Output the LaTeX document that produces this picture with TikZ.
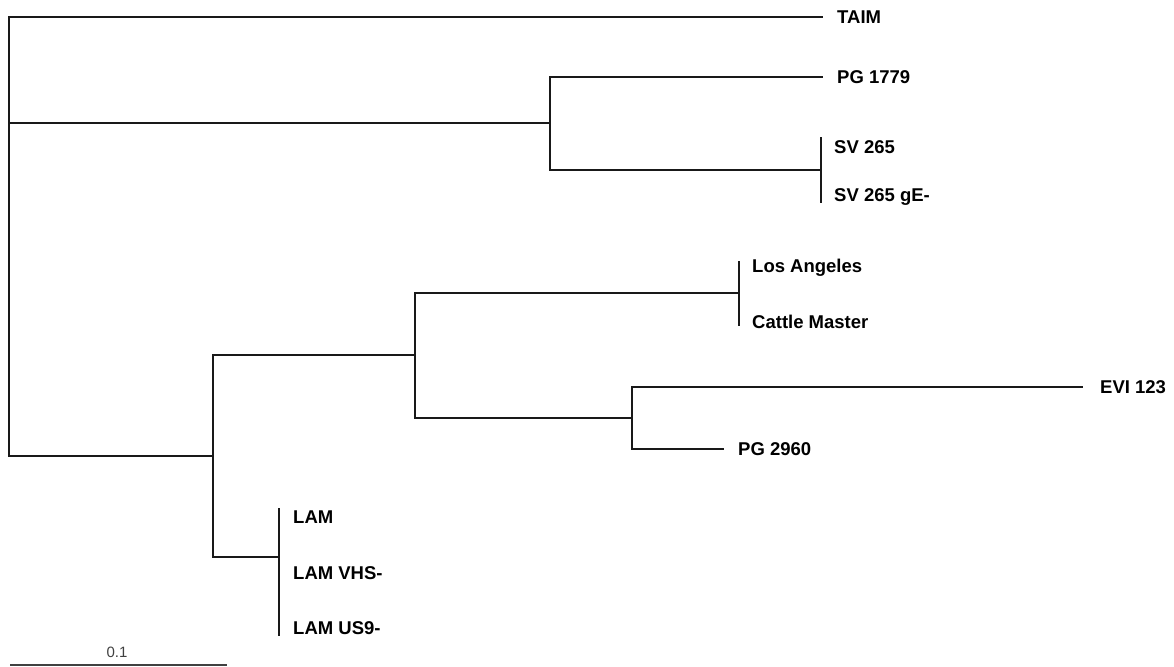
\documentclass[tikz,border=0pt]{standalone}
\usepackage{fontspec}
\setmainfont{Liberation Sans}
\begin{document}
\begin{tikzpicture}[x=1pt,y=-1pt,
  branch/.style={draw=black!90,line width=2.3pt,line cap=rect},
  scalebar/.style={draw=black!75,line width=2pt},
  leaf/.style={anchor=base west,inner sep=0pt,font=\fontsize{18.5}{20}\selectfont\bfseries,text=black},
  scalelabel/.style={anchor=base,inner sep=0pt,font=\fontsize{15}{17}\selectfont,text=black!75}]
\useasboundingbox (0,0) rectangle (1174,666);
% internal nodes and tips
\coordinate (Rb) at (9,456);
\coordinate (Rm) at (9,123);
\coordinate (A) at (550,123);
\coordinate (S) at (821,170);
\coordinate (Sa) at (821,138);
\coordinate (Sb) at (821,202);
\coordinate (C) at (213,456);
\coordinate (B) at (415,355);
\coordinate (LA) at (739,293);
\coordinate (LAa) at (739,262);
\coordinate (LAb) at (739,325);
\coordinate (D) at (632,418);
\coordinate (L) at (279,557);
\coordinate (La) at (279,509);
\coordinate (Lb) at (279,635);
\coordinate (tTAIM) at (822,17);
\coordinate (tPGa) at (822,77);
\coordinate (tEVI) at (1082,387);
\coordinate (tPGb) at (723,449);
\coordinate (sa) at (10,665);
\coordinate (sb) at (227,665);
% branches
\draw[branch] (tTAIM) -| (Rb) -- (C);
\draw[branch] (Rm) -- (A);
\draw[branch] (tPGa) -| (A) |- (S);
\draw[branch] (Sa) -- (Sb);
\draw[branch] (B) -| (C) |- (L);
\draw[branch] (La) -- (Lb);
\draw[branch] (LA) -| (B) |- (D);
\draw[branch] (LAa) -- (LAb);
\draw[branch] (tEVI) -| (D) |- (tPGb);
% labels
\node[leaf] (nTAIM) at (837,23.5) {TAIM};
\node[leaf] (nPGa) at (837,83.5) {PG 1779};
\node[leaf] (nSV) at (834,153.5) {SV 265};
\node[leaf] (nSVg) at (834,201.5) {SV 265 gE-};
\node[leaf] (nLA) at (752,272.5) {Los Angeles};
\node[leaf] (nCM) at (752,328.5) {Cattle Master};
\node[leaf] (nEVI) at (1100,393.5) {EVI 123};
\node[leaf] (nPGb) at (738,455.5) {PG 2960};
\node[leaf] (nLAM) at (293,523.5) {LAM};
\node[leaf] (nVHS) at (293,579.5) {LAM VHS-};
\node[leaf] (nUS9) at (293,634.5) {LAM US9-};
% scale bar
\draw[scalebar] (sa) -- (sb);
\node[scalelabel] (scl) at (117,657.5) {0.1};
\end{tikzpicture}
\end{document}
